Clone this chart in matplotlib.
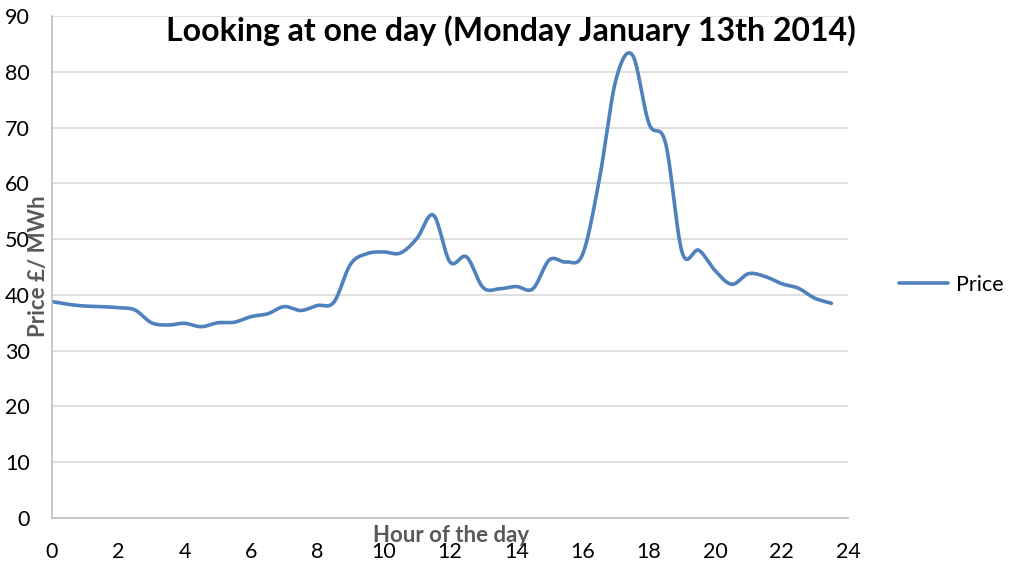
import numpy as np
import matplotlib
matplotlib.use("Agg")
import matplotlib.pyplot as plt

# half-hourly prices
hours = [i * 0.5 for i in range(48)]
price = [38.8, 38.3, 38.0, 37.9, 37.7, 37.3, 35.0, 34.6, 34.9, 34.3,
         35.0, 35.1, 36.1, 36.6, 37.9, 37.2, 38.1, 38.7, 45.5, 47.4,
         47.7, 47.5, 50.1, 54.3, 45.9, 46.8, 41.3, 41.1, 41.5, 41.1,
         46.3, 45.9, 47.3, 60.6, 78.5, 83.0, 70.7, 67.2, 47.6, 48.0,
         44.3, 41.9, 43.8, 43.3, 42.0, 41.2, 39.4, 38.5]
xticks = list(range(0, 25, 2))
yticks = list(range(0, 91, 10))

title = "Looking at one day (Monday January 13th 2014)"
xlabel = "Hour of the day"
ylabel = "Price £/ MWh"
series = "Price"


def smooth(x, y, n=20):
    # catmull-rom style smoothing like excel's smoothed line
    x = np.asarray(x, float)
    y = np.asarray(y, float)
    xs, ys = [], []
    for i in range(len(x) - 1):
        p0 = (x[max(i - 1, 0)], y[max(i - 1, 0)])
        p1 = (x[i], y[i])
        p2 = (x[i + 1], y[i + 1])
        p3 = (x[min(i + 2, len(x) - 1)], y[min(i + 2, len(x) - 1)])
        c1 = (p1[0] + (p2[0] - p0[0]) / 6, p1[1] + (p2[1] - p0[1]) / 6)
        c2 = (p2[0] - (p3[0] - p1[0]) / 6, p2[1] - (p3[1] - p1[1]) / 6)
        t = np.linspace(0, 1, n, endpoint=False)
        a, b, c, d = (1 - t) ** 3, 3 * (1 - t) ** 2 * t, 3 * (1 - t) * t ** 2, t ** 3
        xs.extend(a * p1[0] + b * c1[0] + c * c2[0] + d * p2[0])
        ys.extend(a * p1[1] + b * c1[1] + c * c2[1] + d * p2[1])
    xs.append(x[-1])
    ys.append(y[-1])
    return xs, ys


plt.rcParams["font.family"] = ["Lato", "DejaVu Sans"]

fig = plt.figure(figsize=(10.10, 5.64), dpi=100)
ax = fig.add_axes([52 / 1010, 46 / 564, 796 / 1010, 502 / 564])

sx, sy = smooth(hours, price)
ax.plot(sx, sy, color="#4f81bd", lw=2.6, label=series, solid_capstyle="round")

ax.set_xlim(0, 24)
ax.set_ylim(0, 90)
ax.set_xticks(xticks)
ax.set_yticks(yticks)
ax.tick_params(axis="x", length=0, pad=17, labelsize=15.5)
ax.tick_params(axis="y", length=0, pad=16, labelsize=15.5)
ax.grid(axis="y", color="#d9d9d9", lw=1.2)
ax.set_axisbelow(True)
for s in ["top", "right"]:
    ax.spines[s].set_visible(False)
for s in ["left", "bottom"]:
    ax.spines[s].set_color("#bfbfbf")
    ax.spines[s].set_linewidth(1.2)

fig.text(0.506, 0.945, title, ha="center", va="center", fontsize=23, fontweight="bold")
fig.text(451 / 1010, 1 - 535 / 564, xlabel, ha="center", va="center",
         fontsize=16, fontweight="bold", color="#595959")
fig.text(38 / 1010, 1 - 266 / 564, ylabel, ha="center", va="center", rotation=90,
         fontsize=16, fontweight="bold", color="#595959")

ax.legend(loc="center left", bbox_to_anchor=(1.064, 0.465), frameon=False,
          fontsize=15.5, handlelength=2.3, handletextpad=0.33, borderaxespad=0,
          borderpad=0)

fig.savefig("out.png", dpi=100)
